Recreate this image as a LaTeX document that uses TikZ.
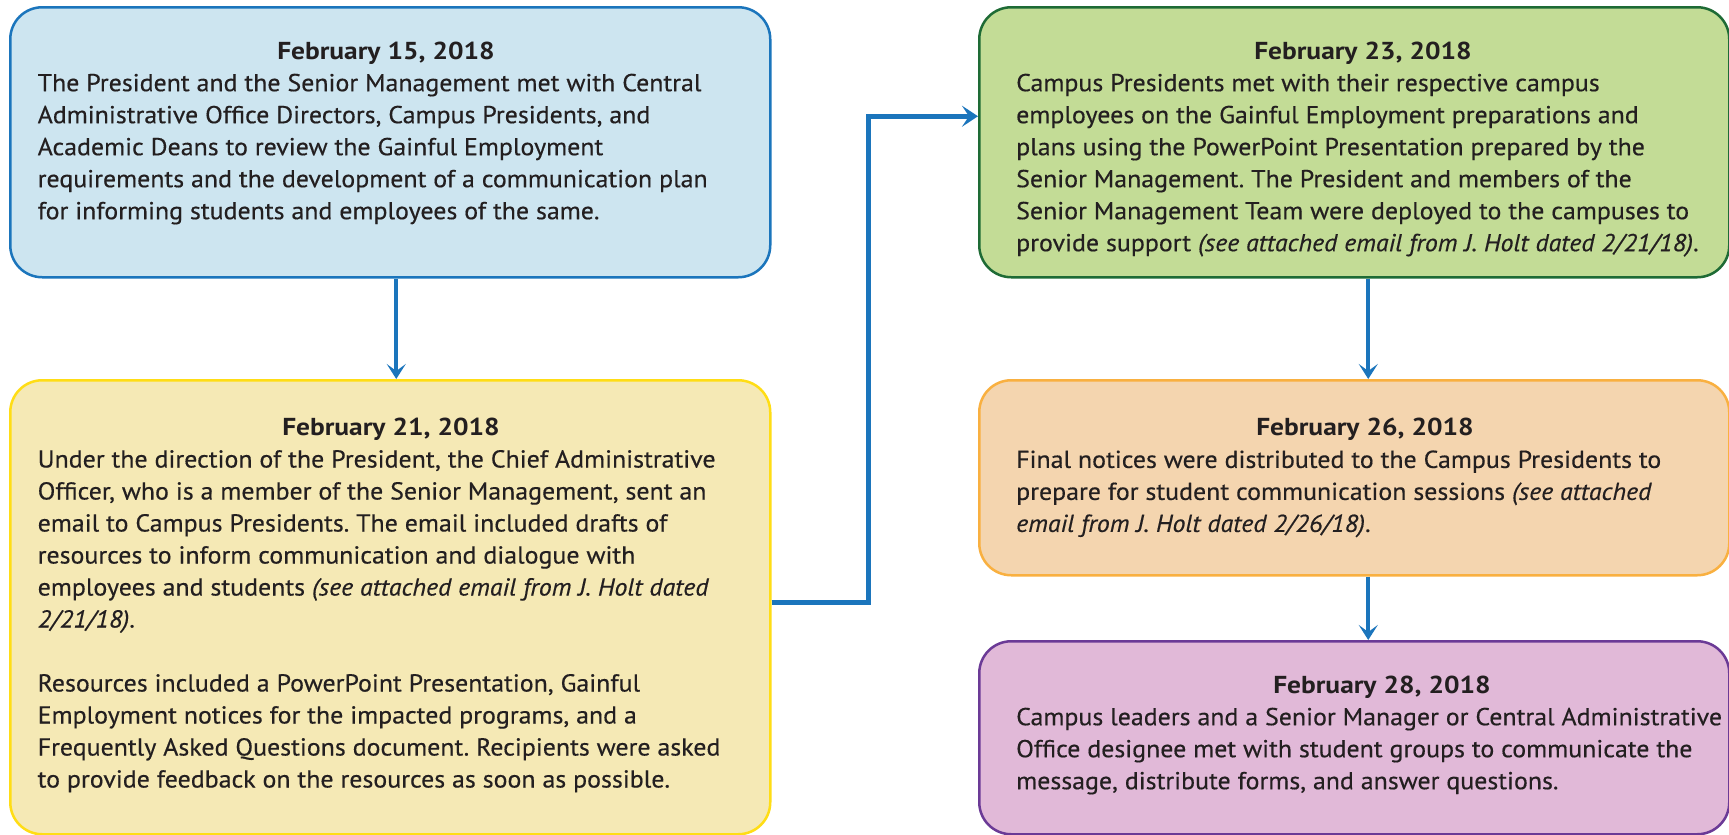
\documentclass[tikz,border=0pt]{standalone}
\usepackage{fontspec}
\setmainfont{PT Sans}[FakeStretch=1.057, UprightFeatures={FakeBold=0.4}, ItalicFeatures={FakeBold=0.4}, BoldFeatures={FakeStretch=1.12}]
\usetikzlibrary{arrows.meta}
\definecolor{txt}{HTML}{231F20}
\definecolor{bfill}{HTML}{CDE5F0}
\definecolor{bline}{HTML}{1B75BC}
\definecolor{yfill}{HTML}{F5E9B5}
\definecolor{yline}{HTML}{FFDD15}
\definecolor{gfill}{HTML}{C3DC96}
\definecolor{gline}{HTML}{1E6B35}
\definecolor{ofill}{HTML}{F4D5AF}
\definecolor{oline}{HTML}{F9B040}
\definecolor{pfill}{HTML}{E1B9D8}
\definecolor{pline}{HTML}{6B3A96}
\definecolor{arrblue}{HTML}{1B75BC}
\frenchspacing
\begin{document}
\begin{tikzpicture}[x=1pt,y=-1pt,
  box/.style={draw, line width=2.5pt, rounded corners=32pt, inner sep=0pt, anchor=north west},
  title/.style={anchor=base, inner sep=0pt, text=txt, font=\fontsize{24.5}{32}\selectfont\bfseries},
  body/.style={anchor=north west, inner sep=0pt, align=left, text=txt, font=\fontsize{24.5}{32}\selectfont},
  arr/.style={draw=arrblue, line width=4pt, -{Stealth[length=15pt, width=19pt, inset=7pt]}},
  elbow/.style={draw=arrblue, line width=5pt, -{Stealth[length=16pt, width=21pt, inset=7pt]}}
]
\useasboundingbox (0,0) rectangle (1729,835);
\fill[white] (0,0) rectangle (1729,835);

% boxes
\node[box, fill=bfill, draw=bline, minimum width=760pt, minimum height=270pt] (b1) at (9,6) {};
\node[box, fill=yfill, draw=yline, minimum width=760pt, minimum height=454pt] (b2) at (9,379) {};
\node[box, fill=gfill, draw=gline, minimum width=750pt, minimum height=270pt] (b3) at (978,6) {};
\node[box, fill=ofill, draw=oline, minimum width=750pt, minimum height=195pt] (b4) at (978,379) {};
\node[box, fill=pfill, draw=pline, minimum width=750pt, minimum height=193pt] (b5) at (978,640) {};

% texts
\node[title] (h1) at (386,59.3) {February 15, 2018};
\node[body] (t1) at (37.5,71) {\rule{0pt}{20pt}The President and the Senior Management met with Central\\
Administrative Office Directors, Campus Presidents, and\\
Academic Deans to review the Gainful Employment\\
requirements and the development of a communication plan\\
for informing students and employees of the same.};

\node[title] (h2) at (391,435) {February 21, 2018};
\node[body] (t2) at (37.5,447.3) {\rule{0pt}{20pt}Under the direction of the President, the Chief Administrative\\
Officer, who is a member of the Senior Management, sent an\\
email to Campus Presidents. The email included drafts of\\
resources to inform communication and dialogue with\\
employees and students \textit{(see attached email from J. Holt dated}\\
\textit{2/21/18)}.\\[32pt]
Resources included a PowerPoint Presentation, Gainful\\
Employment notices for the impacted programs, and a\\
Frequently Asked Questions document. Recipients were asked\\
to provide feedback on the resources as soon as possible.};

\node[title] (h3) at (1363,59.3) {February 23, 2018};
\node[body] (t3) at (1016,71) {\rule{0pt}{20pt}Campus Presidents met with their respective campus\\
employees on the Gainful Employment preparations and\\
plans using the PowerPoint Presentation prepared by the\\
Senior Management. The President and members of the\\
Senior Management Team were deployed to the campuses to\\
provide support \textit{(see attached email from J. Holt dated 2/21/18)}.};

\node[title] (h4) at (1365,435) {February 26, 2018};
\node[body] (t4) at (1016,447.7) {\rule{0pt}{20pt}Final notices were distributed to the Campus Presidents to\\
prepare for student communication sessions \textit{(see attached}\\
\textit{email from J. Holt dated 2/26/18)}.};

\node[title] (h5) at (1382,693.3) {February 28, 2018};
\node[body] (t5) at (1016,705) {\rule{0pt}{20pt}Campus leaders and a Senior Manager or Central Administrative\\
Office designee met with student groups to communicate the\\
message, distribute forms, and answer questions.};

% connectors
\draw[arr] ([xshift=6pt]b1.south) -- ([xshift=6pt]b2.north);
\draw[arr] ([xshift=14pt]b3.south) -- ([xshift=14pt]b4.north);
\draw[arr] ([xshift=14pt]b4.south) -- ([xshift=14pt]b5.north);
\draw[elbow] ([yshift=5pt]b2.east) -- ++(97,0) |- ([yshift=26pt]b3.west);
\end{tikzpicture}
\end{document}
